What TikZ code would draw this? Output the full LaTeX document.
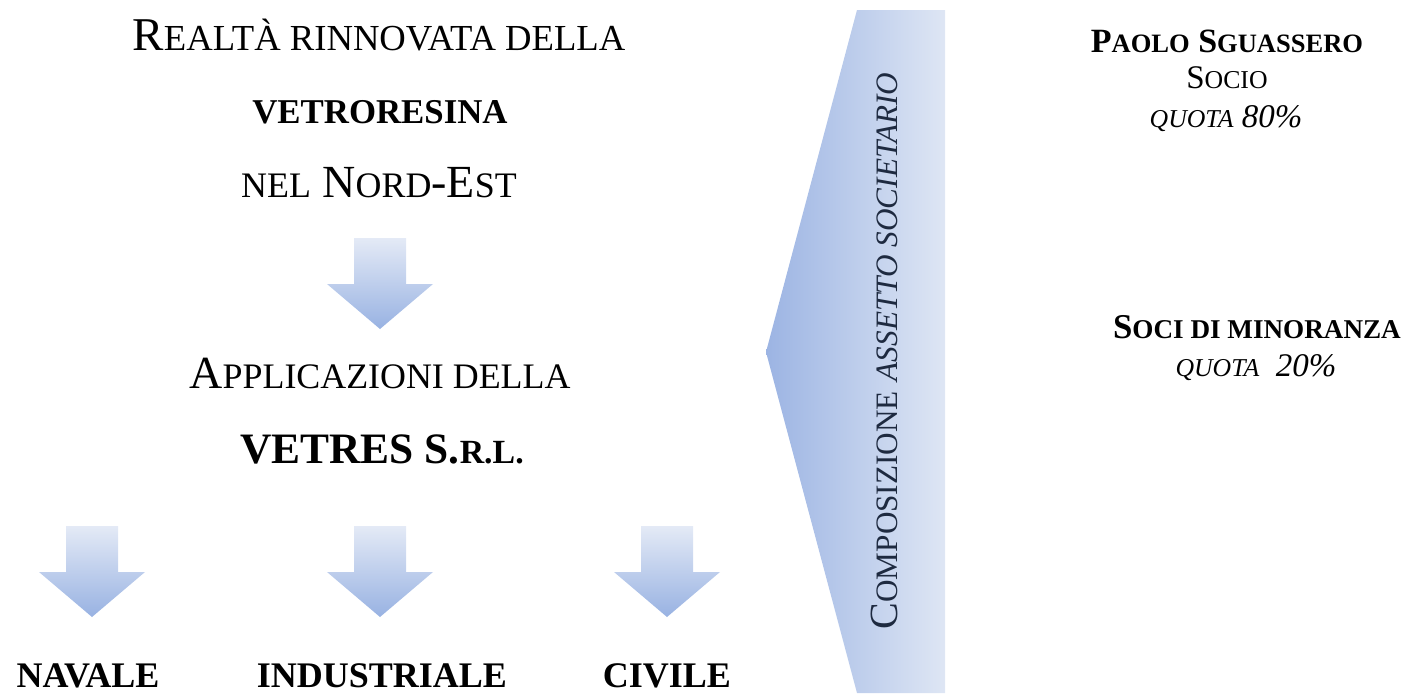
\documentclass[tikz,border=0pt]{standalone}
\usepackage{fontspec}
\setmainfont{Liberation Serif}

\definecolor{arrowtop}{HTML}{E4EAF6}
\definecolor{arrowbot}{HTML}{98B2E2}
\definecolor{bandleft}{HTML}{9CB4E3}
\definecolor{bandright}{HTML}{DEE6F4}
\definecolor{bandtext}{HTML}{1E2A40}

\makeatletter
\newcommand{\fs}[1]{\fontsize{#1}{1.2\dimexpr#1pt\relax}\selectfont}
% small capitals made by hand
\newcommand{\sm}[1]{{\fontsize{\the\dimexpr0.78\dimexpr\f@size pt\relax\relax}{0pt}\selectfont\MakeUppercase{#1}}}
\makeatother

\begin{document}
\begin{tikzpicture}[x=0.5pt, y=-0.5pt,
                    every node/.style = {inner sep=0pt, align=center},
                    heading/.style = {font=\fs{23}, anchor=base},
                    keyword/.style = {font=\fs{17.4}\bfseries, anchor=base},
                    sector/.style = {font=\fs{18}\bfseries, anchor=base},
                    owner/.style = {font=\fs{16.5}, anchor=base},
                    share/.style = {font=\fs{16.5}\itshape, anchor=base},
                    blockarrow/.style = {top color=arrowtop, bottom color=arrowbot, draw=none}]
  \useasboundingbox (0,0) rectangle (1405,693);

  % chevron band
  \shade[left color=bandleft, right color=bandright]
    (857,10) -- (945,10) -- (945,693) -- (857,693) -- (766,352) -- cycle;
  \node[rotate=90, font=\fs{20}, text=bandtext] (band) at (884,351)
    {C\sm{omposizione} {\itshape\sm{assetto societario}}};

  % left column
  \node[heading, font=\fs{23.5}] (realta) at (379,50) {R\sm{ealtà rinnovata della}};
  \node[keyword] (vetro) at (380,123) {VETRORESINA};
  \node[heading] (nordest) at (379,197) {\sm{nel} N\sm{ord}-E\sm{st}};
  \node[heading] (appl) at (380,388) {A\sm{pplicazioni della}};
  \node[keyword, font=\fs{21.7}\bfseries] (vetres) at (382,463) {VETRES S.\sm{r.l.}};

  % arrows
  \foreach \ax/\ay in {380/238, 92/526, 380/526, 667/526}
    \shade[blockarrow] (\ax-26,\ay) -- (\ax+26,\ay) -- (\ax+26,\ay+46) -- (\ax+53,\ay+46)
      -- (\ax,\ay+91) -- (\ax-53,\ay+46) -- (\ax-26,\ay+46) -- cycle;

  \node[sector] (navale) at (88,687) {NAVALE};
  \node[sector] (industriale) at (382,687) {INDUSTRIALE};
  \node[sector] (civile) at (667,687) {CIVILE};

  % right column
  \node[owner, font=\fs{17}\bfseries] (paolo) at (1227,52) {P\sm{aolo} S\sm{guassero}};
  \node[owner] (socio) at (1227,88) {S\sm{ocio}};
  \node[share] (quota1) at (1226,127) {\sm{quota} 80\%};
  \node[owner, font=\fs{17.4}\bfseries] (minoranza) at (1257,338) {S\sm{oci di minoranza}};
  \node[share] (quota2) at (1256,376) {\sm{quota}~ 20\%};
\end{tikzpicture}
\end{document}
